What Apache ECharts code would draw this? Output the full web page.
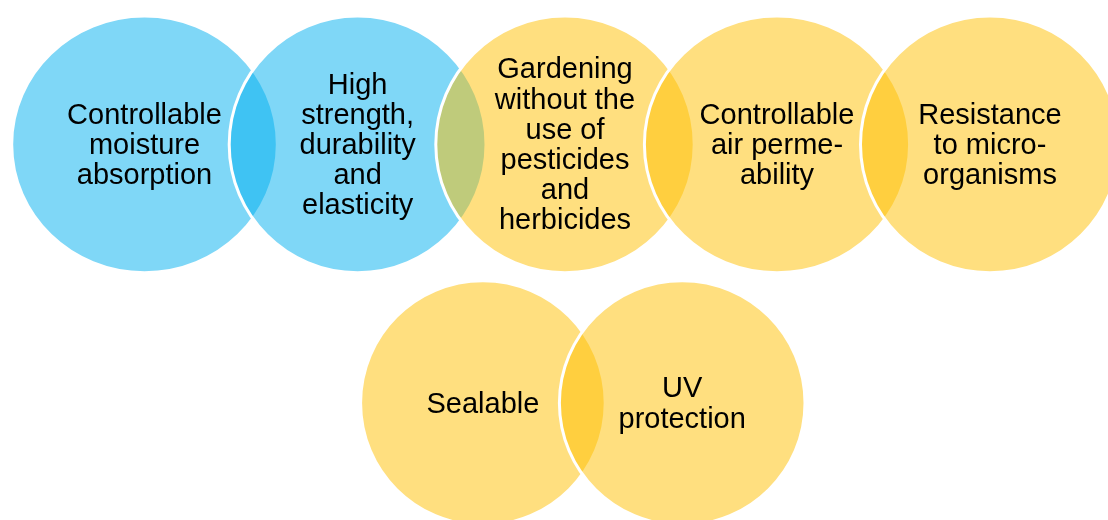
<!DOCTYPE html>
<html>
<head>
<meta charset="utf-8">
<script src="https://cdn.jsdelivr.net/npm/echarts@6/dist/echarts.min.js"></script>
<style>
  html, body { margin: 0; padding: 0; background: #ffffff; }
  #chart { width: 1108px; height: 520px; }
</style>
</head>
<body>
<div id="chart"></div>
<script>
// Diagram data (diagram units; axes span 0..1108 horizontally, 0..520 vertically)
const labels = [
  'Controllable\nmoisture\nabsorption',
  'High\nstrength,\ndurability\nand\nelasticity',
  'Gardening\nwithout the\nuse of\npesticides\nand\nherbicides',
  'Controllable\nair perme-\nability',
  'Resistance\nto micro-\norganisms',
  'Sealable',
  'UV\nprotection'
];
const centerX = [144.5, 357.6, 565, 777, 990, 482.9, 682.2];
const centerY = [144.4, 144.4, 144.4, 144.4, 144.4, 403, 403];
const radiusX = [132.8, 128.4, 129.2, 132.6, 129.5, 122.3, 122.8];
const radiusY = [128.3, 128.3, 128.3, 128.3, 128.3, 122.3, 122.3];
const colorGroup = ['blue', 'blue', 'yellow', 'yellow', 'yellow', 'yellow', 'yellow'];

const palette = { blue: 'rgba(0,176,240,0.5)', yellow: 'rgba(255,192,0,0.5)' };

const seriesData = labels.map((t, i) => [centerX[i], centerY[i], radiusX[i], radiusY[i], i]);

const chart = echarts.init(document.getElementById('chart'), null, { renderer: 'canvas' });
chart.setOption({
  animation: false,
  backgroundColor: '#ffffff',
  grid: { left: 0, right: 0, top: 0, bottom: 0 },
  xAxis: { type: 'value', min: 0, max: 1108, show: false },
  yAxis: { type: 'value', min: 0, max: 520, inverse: true, show: false },
  series: [{
    type: 'custom',
    clip: false,
    data: seriesData,
    encode: { x: 0, y: 1 },
    renderItem: function (params, api) {
      const i = api.value(4);
      const c = api.coord([api.value(0), api.value(1)]);
      const s = api.size([api.value(2), api.value(3)]);
      return {
        type: 'group',
        children: [
          {
            type: 'ellipse',
            shape: { cx: c[0], cy: c[1], rx: s[0], ry: s[1] },
            style: { fill: palette[colorGroup[i]], stroke: '#ffffff', lineWidth: 3 }
          },
          {
            type: 'text',
            z2: 10,
            style: {
              text: labels[i],
              x: c[0],
              y: c[1] + 1.5,
              align: 'center',
              verticalAlign: 'middle',
              fontFamily: '"Liberation Sans", Arial, sans-serif',
              fontSize: 29,
              lineHeight: 30.2,
              fill: '#000000'
            }
          }
        ]
      };
    }
  }]
});
</script>
</body>
</html>
